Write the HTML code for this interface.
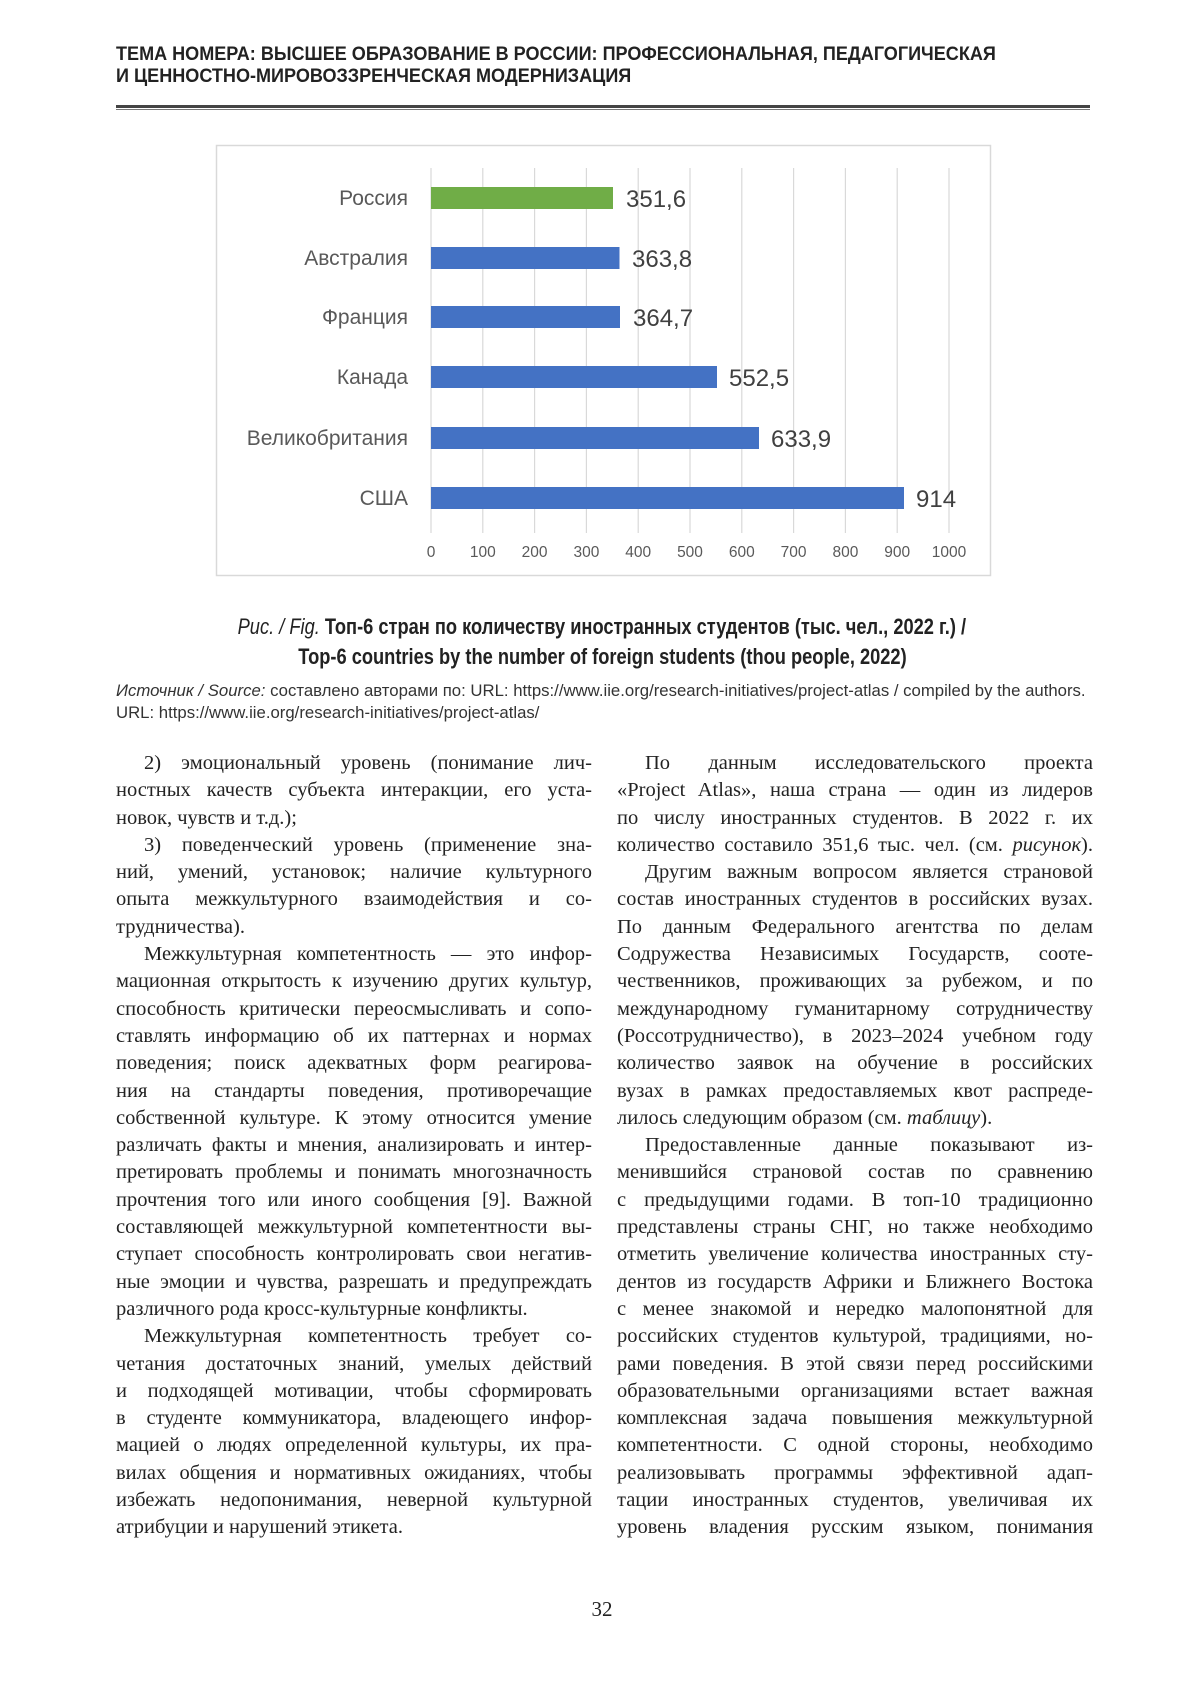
<!DOCTYPE html>
<html><head><meta charset="utf-8"><style>
body{margin:0;background:#fff;}
.page{position:relative;width:1200px;height:1697px;overflow:hidden;background:#fff;}
.hdr{position:absolute;left:116px;top:44px;font-family:"Liberation Sans",sans-serif;font-weight:bold;font-size:19px;line-height:22px;color:#222;transform:scaleX(0.95);transform-origin:0 0;white-space:nowrap;}
.rule1{position:absolute;left:116px;top:105px;width:974px;height:3px;background:#444;}
.rule2{position:absolute;left:116px;top:109px;width:974px;height:1px;background:#777;}
.cap{position:absolute;left:0;width:1204px;text-align:center;font-family:"Liberation Sans",sans-serif;font-size:22px;line-height:26px;color:#222;}
.cap span{display:inline-block;transform:scaleX(0.83);white-space:nowrap;}
.src{position:absolute;left:116px;font-family:"Liberation Sans",sans-serif;font-size:17px;color:#333;white-space:nowrap;transform:scaleX(0.985);transform-origin:0 0;}
.col{position:absolute;top:750px;width:476px;font-family:"Liberation Serif",serif;font-size:20.5px;color:#222;}
.col div{height:27.3px;line-height:27.3px;white-space:nowrap;text-align:justify;text-align-last:justify;}
.col div.l{text-align-last:left;}
.col div.i{padding-left:28px;}
.pn{position:absolute;left:0;width:1204px;top:1597px;text-align:center;font-family:"Liberation Serif",serif;font-size:21px;color:#222;}
</style></head><body><div class="page">
<div class="hdr">ТЕМА НОМЕРА: ВЫСШЕЕ ОБРАЗОВАНИЕ В РОССИИ: ПРОФЕССИОНАЛЬНАЯ, ПЕДАГОГИЧЕСКАЯ<br>И ЦЕННОСТНО-МИРОВОЗЗРЕНЧЕСКАЯ МОДЕРНИЗАЦИЯ</div>
<div class="rule1"></div><div class="rule2"></div>

<svg style="position:absolute;left:0;top:0" width="1200" height="600">
<rect x="216.5" y="145.5" width="774" height="430" fill="#fff" stroke="#d9d9d9" stroke-width="1.5"/>
<g stroke="#d9d9d9" stroke-width="1.2">
<line x1="431" y1="168" x2="431" y2="533"/><line x1="482.8" y1="168" x2="482.8" y2="533"/><line x1="534.6" y1="168" x2="534.6" y2="533"/><line x1="586.4" y1="168" x2="586.4" y2="533"/><line x1="638.2" y1="168" x2="638.2" y2="533"/><line x1="690" y1="168" x2="690" y2="533"/><line x1="741.8" y1="168" x2="741.8" y2="533"/><line x1="793.6" y1="168" x2="793.6" y2="533"/><line x1="845.4" y1="168" x2="845.4" y2="533"/><line x1="897.2" y1="168" x2="897.2" y2="533"/><line x1="949" y1="168" x2="949" y2="533"/>
</g>
<g fill="#4472c4">
<rect x="431" y="187" width="182" height="22" fill="#70ad47"/>
<rect x="431" y="247" width="188.5" height="22"/>
<rect x="431" y="306" width="189" height="22"/>
<rect x="431" y="366" width="286" height="22"/>
<rect x="431" y="427" width="328" height="22"/>
<rect x="431" y="487" width="473" height="22"/>
</g>
<g font-family="Liberation Sans, sans-serif" font-size="21" fill="#595959" text-anchor="end">
<text x="408" y="205">Россия</text><text x="408" y="265">Австралия</text><text x="408" y="324">Франция</text><text x="408" y="384">Канада</text><text x="408" y="445">Великобритания</text><text x="408" y="505">США</text>
</g>
<g font-family="Liberation Sans, sans-serif" font-size="24" fill="#404040">
<text x="626" y="207">351,6</text><text x="632" y="267">363,8</text><text x="633" y="326">364,7</text><text x="729" y="386">552,5</text><text x="771" y="447">633,9</text><text x="916" y="507">914</text>
</g>
<g font-family="Liberation Sans, sans-serif" font-size="15.5" fill="#595959" text-anchor="middle">
<text x="431" y="557">0</text><text x="482.8" y="557">100</text><text x="534.6" y="557">200</text><text x="586.4" y="557">300</text><text x="638.2" y="557">400</text><text x="690" y="557">500</text><text x="741.8" y="557">600</text><text x="793.6" y="557">700</text><text x="845.4" y="557">800</text><text x="897.2" y="557">900</text><text x="949" y="557">1000</text>
</g>
</svg>

<div class="cap" style="top:614px"><span><i>Рис. / Fig.</i> <b>Топ-6 стран по количеству иностранных студентов (тыс. чел., 2022 г.) /</b></span></div>
<div class="cap" style="top:644px"><span><b>Top-6 countries by the number of foreign students (thou people, 2022)</b></span></div>
<div class="src" style="top:681px"><i>Источник / Source:</i> составлено авторами по: URL: https://www.iie.org/research-initiatives/project-atlas / compiled by the authors.</div>
<div class="src" style="top:703px">URL: https://www.iie.org/research-initiatives/project-atlas/</div>

<div class="col" style="left:116px">
<div class="i">2) эмоциональный уровень (понимание лич-</div>
<div>ностных качеств субъекта интеракции, его уста-</div>
<div class="l">новок, чувств и т.д.);</div>
<div class="i">3) поведенческий уровень (применение зна-</div>
<div>ний, умений, установок; наличие культурного</div>
<div>опыта межкультурного взаимодействия и со-</div>
<div class="l">трудничества).</div>
<div class="i">Межкультурная компетентность — это инфор-</div>
<div>мационная открытость к изучению других культур,</div>
<div>способность критически переосмысливать и сопо-</div>
<div>ставлять информацию об их паттернах и нормах</div>
<div>поведения; поиск адекватных форм реагирова-</div>
<div>ния на стандарты поведения, противоречащие</div>
<div>собственной культуре. К этому относится умение</div>
<div>различать факты и мнения, анализировать и интер-</div>
<div>претировать проблемы и понимать многозначность</div>
<div>прочтения того или иного сообщения [9]. Важной</div>
<div>составляющей межкультурной компетентности вы-</div>
<div>ступает способность контролировать свои негатив-</div>
<div>ные эмоции и чувства, разрешать и предупреждать</div>
<div class="l">различного рода кросс-культурные конфликты.</div>
<div class="i">Межкультурная компетентность требует со-</div>
<div>четания достаточных знаний, умелых действий</div>
<div>и подходящей мотивации, чтобы сформировать</div>
<div>в студенте коммуникатора, владеющего инфор-</div>
<div>мацией о людях определенной культуры, их пра-</div>
<div>вилах общения и нормативных ожиданиях, чтобы</div>
<div>избежать недопонимания, неверной культурной</div>
<div class="l">атрибуции и нарушений этикета.</div>
</div>

<div class="col" style="left:617px">
<div class="i">По данным исследовательского проекта</div>
<div>«Project Atlas», наша страна — один из лидеров</div>
<div>по числу иностранных студентов. В 2022 г. их</div>
<div>количество составило 351,6 тыс. чел. (см. <i>рисунок</i>).</div>
<div class="i">Другим важным вопросом является страновой</div>
<div>состав иностранных студентов в российских вузах.</div>
<div>По данным Федерального агентства по делам</div>
<div>Содружества Независимых Государств, сооте-</div>
<div>чественников, проживающих за рубежом, и по</div>
<div>международному гуманитарному сотрудничеству</div>
<div>(Россотрудничество), в 2023–2024 учебном году</div>
<div>количество заявок на обучение в российских</div>
<div>вузах в рамках предоставляемых квот распреде-</div>
<div class="l">лилось следующим образом (см. <i>таблицу</i>).</div>
<div class="i">Предоставленные данные показывают из-</div>
<div>менившийся страновой состав по сравнению</div>
<div>с предыдущими годами. В топ-10 традиционно</div>
<div>представлены страны СНГ, но также необходимо</div>
<div>отметить увеличение количества иностранных сту-</div>
<div>дентов из государств Африки и Ближнего Востока</div>
<div>с менее знакомой и нередко малопонятной для</div>
<div>российских студентов культурой, традициями, но-</div>
<div>рами поведения. В этой связи перед российскими</div>
<div>образовательными организациями встает важная</div>
<div>комплексная задача повышения межкультурной</div>
<div>компетентности. С одной стороны, необходимо</div>
<div>реализовывать программы эффективной адап-</div>
<div>тации иностранных студентов, увеличивая их</div>
<div>уровень владения русским языком, понимания</div>
</div>

<div class="pn">32</div>
</div></body></html>
